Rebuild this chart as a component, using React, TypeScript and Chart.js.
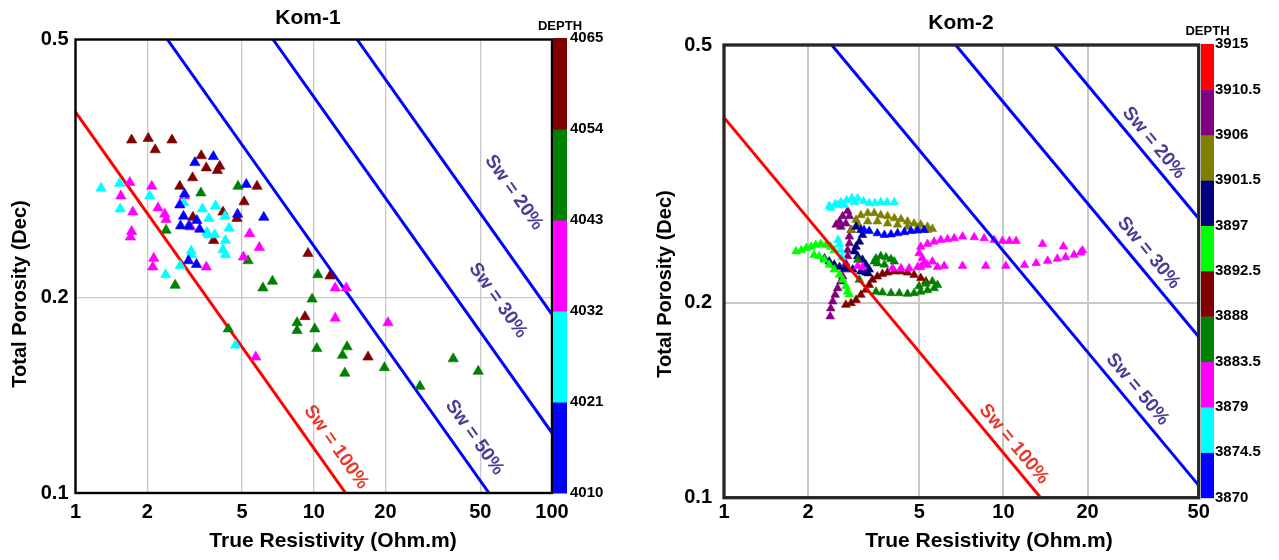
import React, { useEffect, useRef } from 'react';
import { Chart, registerables } from 'chart.js';

Chart.register(...registerables);

type Pt = [number, number];

// ---------------- Kom-1 : [true resistivity (ohm.m), total porosity (dec)] by depth interval
const kom1Depth4010to4021: Pt[] = [
  [3.79, 0.330], [3.17, 0.323], [5.21, 0.299], [2.87, 0.289], [2.74, 0.278], [2.84, 0.267],
  [4.79, 0.269], [6.17, 0.266], [3.23, 0.263], [2.76, 0.258], [2.99, 0.258], [3.32, 0.255],
  [2.98, 0.228], [3.22, 0.225],
];
const kom1Depth4021to4032: Pt[] = [
  [1.28, 0.295], [1.53, 0.300], [2.05, 0.287], [1.54, 0.274], [2.85, 0.280], [3.41, 0.274],
  [3.87, 0.277], [3.63, 0.265], [4.24, 0.267], [4.41, 0.256], [3.56, 0.252], [3.84, 0.250],
  [3.61, 0.250], [4.26, 0.245], [4.16, 0.237], [4.26, 0.233], [3.06, 0.236], [3.07, 0.233],
  [2.75, 0.224], [2.39, 0.217], [4.70, 0.169],
];
const kom1Depth4032to4043: Pt[] = [
  [1.69, 0.301], [2.09, 0.297], [1.55, 0.287], [1.74, 0.271], [2.22, 0.275], [2.37, 0.269],
  [2.40, 0.264], [2.87, 0.287], [3.04, 0.257], [1.72, 0.253], [1.70, 0.248], [5.38, 0.251],
  [5.91, 0.239], [5.07, 0.231], [2.13, 0.230], [2.11, 0.223], [3.54, 0.223], [12.3, 0.207],
  [13.7, 0.207], [12.3, 0.186], [20.5, 0.183], [5.71, 0.162],
];
const kom1Depth4043to4054: Pt[] = [
  [3.36, 0.290], [4.81, 0.297], [2.40, 0.254], [5.30, 0.228], [2.62, 0.209], [6.12, 0.207],
  [6.71, 0.212], [10.4, 0.217], [9.84, 0.199], [8.51, 0.183], [8.51, 0.178], [10.1, 0.179],
  [10.3, 0.167], [13.8, 0.168], [13.2, 0.163], [13.5, 0.153], [19.8, 0.156], [38.5, 0.161],
  [49.0, 0.154], [27.9, 0.146], [4.38, 0.179],
];
const kom1Depth4054to4065: Pt[] = [
  [1.72, 0.350], [2.02, 0.352], [2.16, 0.338], [2.54, 0.350], [3.37, 0.331], [3.54, 0.317],
  [4.03, 0.319], [3.94, 0.314], [3.10, 0.306], [2.74, 0.297], [5.78, 0.297], [5.10, 0.281],
  [4.16, 0.271], [4.76, 0.265], [3.11, 0.266], [3.80, 0.245], [9.46, 0.234], [11.7, 0.216],
  [9.19, 0.187], [16.9, 0.162],
];
const kom1DepthTicks = [4010, 4021, 4032, 4043, 4054, 4065];
const kom1Colors = ['#0000ff', '#00ffff', '#ff00ff', '#008000', '#800000'];
const kom1XTicks = [1, 2, 5, 10, 20, 50, 100];
const kom1YTicks = [0.1, 0.2, 0.5];

// ---------------- Kom-2
const kom2Depth3870to3874_5: Pt[] = [
  [3.17, 0.259], [3.31, 0.258], [3.54, 0.256], [3.75, 0.2545], [3.96, 0.255], [4.18, 0.256],
  [4.42, 0.257], [4.67, 0.258], [4.93, 0.2585], [5.20, 0.259],
];
const kom2Depth3874_5to3879: Pt[] = [
  [2.38, 0.282], [2.41, 0.280], [2.50, 0.284], [2.55, 0.283], [2.62, 0.286], [2.69, 0.283],
  [2.75, 0.288], [2.87, 0.290], [2.93, 0.286], [3.01, 0.290], [3.16, 0.287], [3.31, 0.285],
  [3.47, 0.285], [3.64, 0.286], [3.83, 0.286], [4.07, 0.286], [2.56, 0.250], [2.59, 0.246],
  [2.61, 0.241], [2.64, 0.235],
];
const kom2Depth3879to3883_5: Pt[] = [
  [5.06, 0.244], [5.35, 0.2465], [5.65, 0.2485], [5.97, 0.250], [6.31, 0.2506], [6.67, 0.2515],
  [7.14, 0.253], [7.86, 0.2524], [8.53, 0.2515], [9.27, 0.250], [9.92, 0.2491], [10.5, 0.2491],
  [11.1, 0.2491], [13.8, 0.2465], [16.4, 0.2442], [19.2, 0.2408],
  [4.99, 0.2385], [5.13, 0.2343], [5.20, 0.2302], [5.06, 0.227], [5.35, 0.2288], [5.57, 0.2315],
  [5.81, 0.227], [6.14, 0.228], [7.14, 0.228], [8.65, 0.228], [10.2, 0.228], [11.9, 0.2288],
  [13.1, 0.2302], [14.4, 0.2321], [15.6, 0.2338], [16.7, 0.2351], [17.9, 0.2371], [18.9, 0.239],
  [4.01, 0.2261], [4.30, 0.2261], [4.60, 0.2261], [4.93, 0.227], [3.13, 0.227], [3.01, 0.228],
];
const kom2Depth3883_5to3888: Pt[] = [
  [3.01, 0.233], [3.45, 0.2315], [3.50, 0.234], [3.54, 0.230], [3.64, 0.236], [3.75, 0.229],
  [3.80, 0.235], [3.96, 0.2335], [4.07, 0.2315], [3.05, 0.217], [3.50, 0.208], [3.69, 0.2074],
  [3.96, 0.2069], [4.24, 0.2069], [4.54, 0.2064], [4.79, 0.2069], [5.06, 0.208], [5.35, 0.209],
  [5.65, 0.2106], [5.81, 0.2131], [5.57, 0.2157], [5.28, 0.214], [4.99, 0.212],
];
const kom2Depth3888to3892_5: Pt[] = [
  [2.73, 0.1985], [2.85, 0.1997], [2.97, 0.202], [3.09, 0.2057], [3.22, 0.2094], [3.31, 0.2131],
  [3.40, 0.217], [3.54, 0.2195], [3.69, 0.2216], [3.85, 0.2226], [4.07, 0.2235], [4.30, 0.2235],
  [4.54, 0.2226], [4.79, 0.2208], [5.06, 0.2183], [5.28, 0.2157],
];
const kom2Depth3892_5to3897: Pt[] = [
  [1.81, 0.240], [1.89, 0.241], [1.97, 0.243], [2.05, 0.244], [2.13, 0.2456], [2.22, 0.2465],
  [2.32, 0.2456], [2.41, 0.244], [2.48, 0.241], [2.10, 0.237], [2.19, 0.236], [2.29, 0.233],
  [2.38, 0.229], [2.48, 0.225], [2.59, 0.221], [2.66, 0.217], [2.73, 0.212], [2.77, 0.208],
  [2.81, 0.206],
];
const kom2Depth3897to3901_5: Pt[] = [
  [2.97, 0.262], [3.09, 0.259], [3.13, 0.2545], [3.05, 0.2485], [2.97, 0.244], [2.93, 0.240],
  [3.01, 0.236], [3.13, 0.233], [3.22, 0.229], [3.31, 0.225], [3.28, 0.222], [2.29, 0.234],
  [2.38, 0.2315], [2.48, 0.229], [2.59, 0.227], [2.73, 0.226], [2.89, 0.225], [3.09, 0.2235],
  [3.22, 0.2226],
];
const kom2Depth3901_5to3906: Pt[] = [
  [3.09, 0.273], [3.27, 0.275], [3.45, 0.275], [3.64, 0.273], [3.85, 0.272], [4.07, 0.270],
  [4.30, 0.269], [4.54, 0.267], [4.79, 0.265], [5.06, 0.264], [5.35, 0.262], [5.57, 0.260],
  [2.97, 0.2685], [3.01, 0.265], [3.27, 0.267], [3.54, 0.267], [3.85, 0.265], [4.18, 0.264],
  [4.54, 0.262], [4.93, 0.261], [5.35, 0.259], [2.86, 0.259],
];
const kom2Depth3906to3910_5: Pt[] = [
  [2.77, 0.277], [2.66, 0.272], [2.59, 0.267], [2.52, 0.264], [2.62, 0.262], [2.73, 0.265],
  [2.81, 0.272], [2.85, 0.259], [2.81, 0.253], [2.81, 0.247], [2.77, 0.241], [2.77, 0.236],
  [2.73, 0.230], [2.69, 0.225], [2.66, 0.2195], [2.62, 0.2157], [2.55, 0.2106], [2.50, 0.2057],
  [2.45, 0.2009], [2.41, 0.196], [2.40, 0.1905],
];
const kom2Depth3910_5to3915: Pt[] = [];
const kom2DepthTicks = [3870, 3874.5, 3879, 3883.5, 3888, 3892.5, 3897, 3901.5, 3906, 3910.5, 3915];
const kom2Colors = ['#0000ff', '#00ffff', '#ff00ff', '#008000', '#800000', '#00ff00', '#000080', '#808000', '#800080', '#ff0000'];
const kom2XTicks = [1, 2, 5, 10, 20, 50];
const kom2YTicks = [0.1, 0.2, 0.5];

// ---------------- Water-saturation lines (end points [Rt, porosity])
const swNames = ['Sw = 100%', 'Sw = 50%', 'Sw = 30%', 'Sw = 20%'];
const sw100Line: Pt[] = [[0.608, 0.5], [13.6, 0.1]];
const sw50Line: Pt[] = [[2.43, 0.5], [54.4, 0.1]];
const sw30Line: Pt[] = [[6.75, 0.5], [151, 0.1]];
const sw20Line: Pt[] = [[15.2, 0.5], [340, 0.1]];

const FONT = '"Liberation Sans", Arial, sans-serif';
const LABEL_BLUE = '#4a3b94';
const LABEL_RED = '#e8392d';

const decorPlugin = {
  id: 'decor',
  afterDatasetsDraw(chart: any, _a: any, o: any) {
    const { ctx, chartArea: a } = chart;
    const xs = chart.scales.x;
    const ys = chart.scales.y;
    ctx.save();
    // Sw labels along lines
    o.lineLabels.forEach((lb: any) => {
      const x0 = xs.getPixelForValue(lb.line[0][0]);
      const y0 = ys.getPixelForValue(lb.line[0][1]);
      const x1 = xs.getPixelForValue(lb.line[1][0]);
      const y1 = ys.getPixelForValue(lb.line[1][1]);
      const ang = Math.atan2(y1 - y0, x1 - x0);
      const cx = xs.getPixelForValue(lb.at[0]);
      const cy = ys.getPixelForValue(lb.at[1]);
      ctx.save();
      ctx.translate(cx, cy);
      ctx.rotate(ang);
      ctx.font = `bold ${o.labelSize}px ${FONT}`;
      ctx.fillStyle = lb.color;
      ctx.textAlign = 'center';
      ctx.textBaseline = 'middle';
      ctx.fillText(lb.text, 0, 0);
      ctx.restore();
    });
    // frame
    ctx.strokeStyle = o.frameColor;
    ctx.lineWidth = o.frameWidth;
    ctx.strokeRect(a.left, a.top, a.right - a.left, a.bottom - a.top);
    // chart title
    ctx.fillStyle = '#000';
    ctx.textAlign = 'center';
    ctx.textBaseline = 'middle';
    ctx.font = `bold ${o.titleSize}px ${FONT}`;
    ctx.fillText(o.title, o.titleX, o.titleY);
    // axis titles
    ctx.font = `bold ${o.xTitleSize}px ${FONT}`;
    ctx.fillText('True Resistivity (Ohm.m)', o.xTitleX, o.xTitleY);
    ctx.save();
    ctx.translate(o.yTitleX, o.yTitleY);
    ctx.rotate(-Math.PI / 2);
    ctx.font = `bold ${o.yTitleSize}px ${FONT}`;
    ctx.fillText('Total Porosity (Dec)', 0, 0);
    ctx.restore();
    // colour bar
    const cb = o.colorbar;
    const bx = a.right + cb.gap;
    const top = a.top + cb.topOffset;
    const bottom = a.bottom;
    const n = cb.colors.length;
    const h = (bottom - top) / n;
    for (let i = 0; i < n; i++) {
      ctx.fillStyle = cb.colors[i];
      ctx.fillRect(bx, bottom - (i + 1) * h, cb.width, h + 0.5);
    }
    ctx.font = `bold ${cb.fontSize}px ${FONT}`;
    ctx.fillStyle = '#000';
    ctx.textAlign = 'left';
    ctx.textBaseline = 'middle';
    cb.ticks.forEach((t: number, i: number) => {
      ctx.fillText(String(t), bx + cb.width + cb.labelGap, bottom - i * h);
    });
    ctx.font = `bold ${cb.titleSize}px ${FONT}`;
    ctx.textAlign = 'center';
    ctx.fillText('DEPTH', bx + cb.width / 2, cb.titleY);
    ctx.restore();
  },
};

function pts(d: Pt[]) {
  return d.map(([x, y]) => ({ x, y }));
}

function buildConfig(p: any) {
  const scatter = p.groups.map((g: Pt[], i: number) => ({
    data: pts(g),
    pointStyle: 'triangle',
    pointRadius: p.markerR,
    pointHoverRadius: p.markerR,
    backgroundColor: p.colors[i],
    borderColor: p.colors[i],
    borderWidth: 0.6,
    showLine: false,
    order: 2,
  }));
  const lineDefs = [sw100Line, sw50Line, sw30Line, sw20Line];
  const lineColors = ['#ff0000', '#0000ff', '#0000ff', '#0000ff'];
  const lines = lineDefs.map((l, i) => ({
    data: pts(l),
    showLine: true,
    borderColor: lineColors[i],
    borderWidth: 3,
    pointRadius: 0,
    fill: false,
    clip: 0,
    order: p.linesOnTop ? 1 : 3,
  }));
  const lineLabels = swNames.map((t, i) => ({
    text: t,
    color: i === 0 ? LABEL_RED : LABEL_BLUE,
    line: lineDefs[i],
    at: p.labelAt[i],
  }));
  const tickFont = { family: FONT, size: 20, weight: 'bold' };
  return {
    type: 'scatter',
    data: { datasets: [...scatter, ...lines] },
    plugins: [decorPlugin],
    options: {
      responsive: false,
      animation: false,
      events: [],
      layout: { padding: { left: 0, right: p.padRight, top: p.padTop, bottom: 0 } },
      plugins: {
        legend: { display: false },
        tooltip: { enabled: false },
        title: { display: false },
        decor: {
          title: p.title,
          titleX: p.titleX,
          titleY: p.titleY,
          titleSize: 21,
          xTitleX: p.xTitleX,
          xTitleY: 541,
          xTitleSize: 21,
          yTitleX: p.yTitleX,
          yTitleY: p.yTitleY,
          yTitleSize: 20,
          labelSize: 19,
          frameColor: p.frameColor,
          frameWidth: p.frameWidth,
          lineLabels,
          colorbar: {
            colors: p.colors,
            ticks: p.depthTicks,
            gap: p.cbGap,
            width: p.cbWidth,
            topOffset: p.cbTopOffset,
            fontSize: 15,
            labelGap: p.cbLabelGap,
            titleSize: 13,
            titleY: p.cbTitleY,
          },
        },
      },
      scales: {
        x: {
          type: 'logarithmic',
          min: p.xTicks[0],
          max: p.xTicks[p.xTicks.length - 1],
          afterBuildTicks: (s: any) => { s.ticks = p.xTicks.map((v: number) => ({ value: v })); },
          afterFit: (s: any) => { s.height = p.xAxisH; },
          grid: { color: '#c8c8c8', lineWidth: p.gridW, drawTicks: false },
          border: { display: false },
          ticks: {
            autoSkip: false,
            maxRotation: 0,
            padding: p.xTickPad,
            color: '#000',
            font: tickFont,
            callback: (v: any) => String(v),
          },
          title: { display: false },
        },
        y: {
          type: 'logarithmic',
          min: p.yTicks[0],
          max: p.yTicks[p.yTicks.length - 1],
          afterBuildTicks: (s: any) => { s.ticks = p.yTicks.map((v: number) => ({ value: v })); },
          afterFit: (s: any) => { s.width = p.yAxisW; },
          grid: { color: '#c8c8c8', lineWidth: p.gridW, drawTicks: false },
          border: { display: false },
          ticks: {
            padding: p.yTickPad,
            color: '#000',
            font: tickFont,
            callback: (v: any) => String(v),
          },
          title: { display: false },
        },
      },
    },
  };
}

const kom1Panel = {
  title: 'Kom-1',
  titleX: 308,
  titleY: 18,
  xTitleX: 333,
  yTitleX: 20,
  yTitleY: 294,
  groups: [kom1Depth4010to4021, kom1Depth4021to4032, kom1Depth4032to4043, kom1Depth4043to4054, kom1Depth4054to4065],
  colors: kom1Colors,
  depthTicks: kom1DepthTicks,
  xTicks: kom1XTicks,
  yTicks: kom1YTicks,
  markerR: 6,
  linesOnTop: false,
  padRight: 88,
  padTop: 39.5,
  xAxisH: 67,
  yAxisW: 75.5,
  gridW: 1.3,
  frameColor: '#000',
  frameWidth: 2.4,
  xTickPad: 7,
  yTickPad: 7,
  cbGap: 1,
  cbWidth: 14,
  cbTopOffset: -1.5,
  cbLabelGap: 3,
  cbTitleY: 26,
  labelAt: [[12.4, 0.1177], [47.3, 0.1218], [59.3, 0.198], [69.2, 0.2905]],
};

const kom2Panel = {
  title: 'Kom-2',
  titleX: 321,
  titleY: 23,
  xTitleX: 349,
  yTitleX: 25.5,
  yTitleY: 284,
  groups: [kom2Depth3870to3874_5, kom2Depth3874_5to3879, kom2Depth3879to3883_5, kom2Depth3883_5to3888, kom2Depth3888to3892_5,
    kom2Depth3892_5to3897, kom2Depth3897to3901_5, kom2Depth3901_5to3906, kom2Depth3906to3910_5, kom2Depth3910_5to3915],
  colors: kom2Colors,
  depthTicks: kom2DepthTicks,
  xTicks: kom2XTicks,
  yTicks: kom2YTicks,
  markerR: 5,
  linesOnTop: true,
  padRight: 80.3,
  padTop: 45,
  xAxisH: 62.3,
  yAxisW: 84,
  gridW: 2,
  frameColor: '#262626',
  frameWidth: 3.3,
  xTickPad: 3,
  yTickPad: 12,
  cbGap: 2.3,
  cbWidth: 13,
  cbTopOffset: -1,
  cbLabelGap: 1,
  cbTitleY: 31,
  labelAt: [[10.9, 0.121], [30.2, 0.147], [33.1, 0.2388], [34.5, 0.353]],
};

function Panel({ spec, left, width }: { spec: any; left: number; width: number }) {
  const ref = useRef<HTMLCanvasElement | null>(null);
  useEffect(() => {
    if (!ref.current) return;
    const chart = new Chart(ref.current, buildConfig(spec) as any);
    return () => chart.destroy();
  }, [spec]);
  return (
    <canvas
      ref={ref}
      width={width}
      height={560}
      style={{ position: 'absolute', left, top: 0, width, height: 560 }}
    />
  );
}

export default function App() {
  return (
    <div style={{ position: 'absolute', left: 0, top: 0, width: 1279, height: 560, background: '#fff', overflow: 'hidden' }}>
      <Panel spec={kom1Panel} left={0} width={640} />
      <Panel spec={kom2Panel} left={640} width={639} />
    </div>
  );
}
